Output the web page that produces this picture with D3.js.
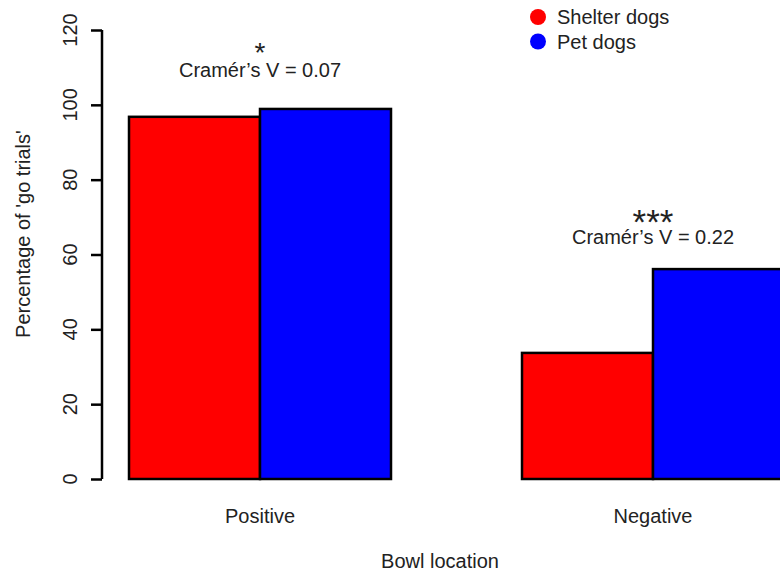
<!DOCTYPE html>
<html>
<head>
<meta charset="utf-8">
<script src="https://cdn.jsdelivr.net/npm/d3@7"></script>
<style>
  body { margin: 0; background: #fff; }
  text { font-family: "Liberation Sans", Arial, sans-serif; fill: #222; }
</style>
</head>
<body>
<svg id="chart"></svg>
<script>
// Data
const locations = ['Positive', 'Negative'];
const groups = ['Shelter dogs', 'Pet dogs'];
const groupColors = ['#ff0000', '#0000ff'];
const shelterValues = [96.8, 33.7];
const petValues = [98.9, 56.1];
const stars = ['*', '***'];
const effectLabels = ['Cram\u00e9r\u2019s V = 0.07', 'Cram\u00e9r\u2019s V = 0.22'];
const effectLabelY = [107.4, 62.8]; // label baseline, in percent units
const yTicks = [0, 20, 40, 60, 80, 100, 120];

const width = 780;
const height = 573;
const fontSize = 20;

const svg = d3.select('#chart')
  .attr('width', width)
  .attr('height', height);

// barplot units: bars at [1,2],[2,3] then a gap, [4,5],[5,6]
const x = d3.scaleLinear().domain([1, 6]).range([129, 784]);
const y = d3.scaleLinear().domain([0, 120]).range([479, 30]);

const rows = locations.map((loc, i) => ({
  loc,
  values: [shelterValues[i], petValues[i]],
  start: 1 + i * 3,
}));

const bars = [];
rows.forEach((r) => {
  r.values.forEach((v, j) => bars.push({ x0: r.start + j, value: v, color: groupColors[j] }));
});

svg.selectAll('.bar')
  .data(bars)
  .join('rect')
  .attr('class', 'bar')
  .attr('x', (d) => x(d.x0))
  .attr('width', (d) => x(d.x0 + 1) - x(d.x0))
  .attr('y', (d) => y(d.value))
  .attr('height', (d) => y(0) - y(d.value))
  .attr('fill', (d) => d.color)
  .attr('stroke', '#000')
  .attr('stroke-width', 2.5);

// y axis (R style: line only over the tick range)
const yAxis = d3.axisLeft(y).tickValues(yTicks).tickSize(11).tickFormat('');
const yAxisG = svg.append('g')
  .attr('transform', 'translate(102,0)')
  .call(yAxis);
yAxisG.select('.domain').attr('d', `M0,${y(0)}V${y(120)}`).attr('stroke-width', 2.5);
yAxisG.selectAll('.tick line').attr('stroke-width', 2.5);

svg.selectAll('.ytick-label')
  .data(yTicks)
  .join('text')
  .attr('class', 'ytick-label')
  .attr('transform', (d) => `translate(77,${y(d)}) rotate(-90)`)
  .attr('text-anchor', 'middle')
  .attr('font-size', fontSize)
  .text((d) => d);

svg.append('text')
  .attr('transform', 'translate(30,234) rotate(-90)')
  .attr('text-anchor', 'middle')
  .attr('font-size', fontSize)
  .text("Percentage of 'go trials'");

// category labels
svg.selectAll('.cat-label')
  .data(rows)
  .join('text')
  .attr('class', 'cat-label')
  .attr('x', (d) => x(d.start + 1))
  .attr('y', 523)
  .attr('text-anchor', 'middle')
  .attr('font-size', fontSize)
  .text((d) => d.loc);

svg.append('text')
  .attr('x', 440)
  .attr('y', 568)
  .attr('text-anchor', 'middle')
  .attr('font-size', fontSize)
  .text('Bowl location');

// significance annotations
const annot = rows.map((r, i) => ({
  cx: x(r.start + 1),
  labelY: y(effectLabelY[i]),
  star: stars[i],
  label: effectLabels[i],
}));

svg.selectAll('.effect')
  .data(annot)
  .join('text')
  .attr('class', 'effect')
  .attr('x', (d) => d.cx)
  .attr('y', (d) => d.labelY)
  .attr('text-anchor', 'middle')
  .attr('font-size', fontSize)
  .text((d) => d.label);

// one star is drawn smaller than three
svg.selectAll('.star')
  .data(annot)
  .join('text')
  .attr('class', 'star')
  .attr('x', (d) => d.cx)
  .attr('y', (d, i) => d.labelY - (i === 0 ? 15 : 10))
  .attr('text-anchor', 'middle')
  .attr('font-size', (d, i) => (i === 0 ? 28 : 35))
  .text((d) => d.star);

// legend
const legend = svg.append('g').attr('transform', 'translate(538,17)');
const items = legend.selectAll('g')
  .data(groups)
  .join('g')
  .attr('transform', (d, i) => `translate(0,${i * 24.5})`);
items.append('circle')
  .attr('r', 8)
  .attr('fill', (d, i) => groupColors[i]);
items.append('text')
  .attr('x', 19)
  .attr('dy', '0.35em')
  .attr('font-size', fontSize)
  .text((d) => d);
</script>
</body>
</html>
